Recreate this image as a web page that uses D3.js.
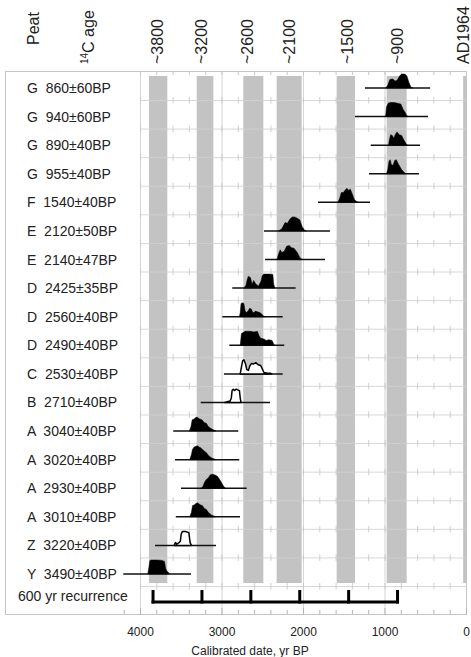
<!DOCTYPE html>
<html><head><meta charset="utf-8">
<script src="https://cdn.jsdelivr.net/npm/d3@7"></script>
<style>
body{margin:0;background:#fff;}
text{font-family:"Liberation Sans",Arial,sans-serif;fill:#222;}
</style>
</head><body>
<svg id="c" width="471" height="657"></svg>
<script>
// ---------------- data ----------------
const peat = ["G","G","G","G","F","E","E","D","D","D","C","B","A","A","A","A","Z","Y"];
const c14 = ["860±60BP","940±60BP","890±40BP","955±40BP","1540±40BP","2120±50BP","2140±47BP",
  "2425±35BP","2560±40BP","2490±40BP","2530±40BP","2710±40BP","3040±40BP","3020±40BP",
  "2930±40BP","3010±40BP","3220±40BP","3490±40BP"];
// calibrated range lines (yr BP)
const rangeFrom = [1240,1362,1169,1190,1816,2479,2466,2868,2990,2904,2970,3255,3592,3570,3497,3561,3816,4205];
const rangeTo   = [440,466,564,577,1178,1669,1730,2090,2249,2230,2249,2405,2794,2782,2691,2773,3068,3374];
const outlined  = [false,false,false,false,false,false,false,false,false,false,true,true,false,false,false,false,true,false];
// probability profiles [yr BP, relative probability]
const profiles = [
  [[985,0],[960,0.2],[935,0.6],[900,0.65],[870,0.5],[845,0.55],[815,0.85],[790,1],[750,1],[725,0.85],[700,0.4],[675,0.05],[650,0]],
  [[1000,0],[985,0.1],[975,0.7],[955,0.95],[930,1],[880,1],[840,0.95],[800,0.9],[770,0.5],[745,0.3],[725,0.05],[710,0]],
  [[950,0],[940,0.4],[925,0.75],[905,0.7],[885,0.5],[865,0.8],[845,0.95],[820,0.75],[790,0.7],[760,0.35],[735,0.1],[720,0]],
  [[975,0],[960,0.3],[945,0.9],[930,1],[915,0.65],[895,0.6],[875,0.95],[855,1],[830,0.7],[790,0.3],[760,0.1],[740,0]],
  [[1570,0],[1550,0.3],[1530,0.7],[1505,0.7],[1480,0.9],[1460,1],[1440,0.85],[1420,0.95],[1395,0.6],[1370,0.2],[1340,0.05],[1320,0]],
  [[2300,0],[2260,0.15],[2220,0.6],[2190,0.55],[2160,0.85],[2130,1],[2100,1],[2070,0.9],[2040,0.8],[2010,0.3],[1980,0.05],[1960,0]],
  [[2320,0],[2300,0.4],[2280,0.7],[2260,0.5],[2230,0.6],[2200,0.95],[2170,1],[2140,0.85],[2110,0.8],[2070,0.5],[2040,0.15],[2010,0]],
  [[2725,0],[2700,0.2],[2685,0.6],[2670,0.85],[2645,0.75],[2625,0.3],[2605,0.55],[2580,0.3],[2545,0.15],[2515,0.5],[2500,0.9],[2480,1],[2420,1],[2370,0.98],[2360,0.3],[2345,0]],
  [[2780,0],[2770,0.3],[2760,0.95],[2745,1],[2725,0.95],[2710,0.4],[2690,0.3],[2670,0.45],[2655,0.6],[2635,0.55],[2615,0.3],[2600,0.3],[2585,0.4],[2560,0.35],[2530,0.3],[2500,0.15],[2480,0.02],[2470,0]],
  [[2770,0],[2755,0.85],[2740,0.9],[2710,1],[2650,1],[2600,0.95],[2560,1],[2540,0.7],[2520,0.5],[2480,0.45],[2450,0.35],[2420,0.4],[2380,0.35],[2360,0.1],[2350,0]],
  [[2770,0],[2755,0.5],[2740,0.95],[2725,1],[2705,0.7],[2690,0.3],[2670,0.25],[2650,0.6],[2630,0.75],[2610,0.7],[2580,0.8],[2550,0.65],[2520,0.6],[2495,0.3],[2480,0.1],[2440,0.05],[2400,0.05],[2385,0]],
  [[2960,0],[2930,0.05],[2895,0.1],[2880,0.3],[2870,0.85],[2855,0.95],[2840,0.85],[2820,0.95],[2800,0.9],[2780,0.85],[2770,0.3],[2760,0]],
  [[3395,0],[3375,0.3],[3360,0.8],[3340,0.85],[3320,0.95],[3300,1],[3280,0.9],[3260,0.85],[3240,0.8],[3210,0.6],[3185,0.55],[3160,0.3],[3120,0.15],[3085,0.05],[3070,0]],
  [[3390,0],[3370,0.35],[3355,0.75],[3335,0.9],[3315,0.95],[3295,1],[3275,0.9],[3255,0.85],[3235,0.75],[3210,0.6],[3185,0.5],[3160,0.3],[3120,0.12],[3085,0.04],[3075,0]],
  [[3250,0],[3230,0.1],[3210,0.4],[3190,0.6],[3160,0.75],[3140,0.95],[3110,1],[3080,0.95],[3050,0.85],[3020,0.6],[2990,0.3],[2970,0.1],[2950,0]],
  [[3390,0],[3370,0.3],[3355,0.8],[3335,0.85],[3315,0.95],[3295,1],[3275,0.92],[3255,0.85],[3235,0.8],[3210,0.6],[3185,0.52],[3160,0.3],[3120,0.12],[3085,0.04],[3075,0]],
  [[3580,0],[3565,0.2],[3550,0.1],[3535,0.15],[3520,0.2],[3505,0.3],[3495,0.8],[3480,1],[3440,1],[3420,0.95],[3400,0.9],[3385,0.2],[3370,0]],
  [[3905,0],[3890,0.5],[3880,0.95],[3860,1],[3790,1],[3730,0.97],[3700,0.9],[3685,0.4],[3670,0.2],[3650,0.1],[3640,0]]
];
// grey event bands (yr BP)
const bandFrom = [3890,3304,2733,2323,1587,973,35];
const bandTo   = [3665,3100,2487,2016,1362,728,0];
// top labels
const topLabels = ["~3800","~3200","~2600","~2100","~1500","~900","AD1964"];
const topLabelYears = [3790,3240,2675,2160,1450,845,30];
// recurrence bracket
const recurrence = [3840,3240,2640,2040,1440,840];
const xTicks = [4000,3000,2000,1000,0];

// ---------------- drawing ----------------
const svg = d3.select("#c");
const x = d3.scaleLinear().domain([4000,0]).range([140,466]);
const y = d3.scalePoint().domain(d3.range(peat.length)).range([88,574]);
const h = d3.scaleLinear().domain([0,1]).range([0,14]);
const frame = {l:5, t:71, r:466, b:614};
const bandTop = 76, bandBottom = 583;

// frame
svg.append("rect").attr("x",frame.l+0.5).attr("y",frame.t+0.5)
  .attr("width",frame.r-frame.l).attr("height",frame.b-frame.t)
  .attr("fill","none").attr("stroke","#c4c4c4").attr("stroke-width",1);

// bands
svg.append("g").selectAll("rect").data(bandFrom).join("rect")
  .attr("x",(d,i)=>x(d)).attr("width",(d,i)=>x(bandTo[i])-x(d))
  .attr("y",bandTop).attr("height",bandBottom-bandTop)
  .attr("fill","#c3c3c3");

// vertical gridlines
svg.append("g").selectAll("line").data(xTicks.slice(0,4)).join("line")
  .attr("x1",d=>x(d)+0.5).attr("x2",d=>x(d)+0.5).attr("y1",frame.t).attr("y2",frame.b)
  .attr("stroke","#cfcfcf").attr("stroke-width",1).attr("opacity",0.85);

// horizontal gridlines with minor ticks
const minor = d3.range(0,4001,200);
const gl = svg.append("g");
const gridYs = y.domain().map(i=>y(i)+12);
gridYs.forEach(gy=>{
  gl.append("line").attr("x1",x(4000)).attr("x2",frame.r).attr("y1",gy+0.5).attr("y2",gy+0.5)
    .attr("stroke","#d2d2d2").attr("stroke-width",1).attr("opacity",0.85);
  const g2 = gl.append("g");
  g2.selectAll("line").data(minor).join("line")
    .attr("x1",d=>x(d)+0.5).attr("x2",d=>x(d)+0.5).attr("y1",gy-3).attr("y2",gy+3.5)
    .attr("stroke","#c8c8c8").attr("stroke-width",1).attr("opacity",0.85);
});
// ticks on top frame
gl.append("g").selectAll("line").data(minor).join("line")
  .attr("x1",d=>x(d)+0.5).attr("x2",d=>x(d)+0.5).attr("y1",frame.t).attr("y2",frame.t+4)
  .attr("stroke","#c8c8c8");

// bottom axis ticks
const axisTicks = d3.range(0,4201,200);
svg.append("g").selectAll("line").data(axisTicks).join("line")
  .attr("x1",d=>x(d)+0.5).attr("x2",d=>x(d)+0.5)
  .attr("y1",d=>frame.b-(d%1000===0?6:4)).attr("y2",d=>frame.b+(d%1000===0?1:0))
  .attr("stroke","#b4b4b4");
// bottom axis labels (d3 axis)
const ax = svg.append("g").attr("transform",`translate(0,${frame.b+13})`)
  .call(d3.axisBottom(x).tickValues(xTicks).tickSize(0).tickPadding(0).tickFormat(d3.format("d")));
ax.select(".domain").remove();
ax.selectAll("text").style("font-size","12px").style("font-family","Liberation Sans, Arial, sans-serif").attr("fill","#222");
svg.append("text").attr("x",250).attr("y",655).attr("text-anchor","middle")
  .style("font-size","12px").text("Calibrated date, yr BP");

// row labels
svg.append("g").selectAll("text").data(peat).join("text")
  .attr("x",27).attr("y",(d,i)=>y(i)+5).style("font-size","14px")
  .style("white-space","pre")
  .text((d,i)=>d+"  "+c14[i]);

// range lines
svg.append("g").selectAll("line").data(rangeFrom).join("line")
  .attr("x1",d=>x(d)).attr("x2",(d,i)=>x(rangeTo[i]))
  .attr("y1",(d,i)=>y(i)).attr("y2",(d,i)=>y(i))
  .attr("stroke","#111").attr("stroke-width",1.5);

// distributions
const area = (i)=>d3.area().x(d=>x(d[0])).y0(y(i)).y1(d=>y(i)-h(d[1]));
svg.append("g").selectAll("path").data(profiles).join("path")
  .attr("d",(d,i)=>area(i)(d))
  .attr("fill",(d,i)=>outlined[i]?"#fff":"#000")
  .attr("stroke","#000").attr("stroke-width",(d,i)=>outlined[i]?1.5:0.5)
  .attr("stroke-linejoin","round");

// recurrence row
const ry = y(peat.length-1) + 22;
svg.append("text").attr("x",18).attr("y",ry+5).style("font-size","14px").text("600 yr recurrence");
const bb = y(peat.length-1)+28;
svg.append("line").attr("x1",x(d3.max(recurrence))-1.5).attr("x2",x(d3.min(recurrence))+1.5)
  .attr("y1",bb).attr("y2",bb).attr("stroke","#000").attr("stroke-width",3);
svg.append("g").selectAll("line").data(recurrence).join("line")
  .attr("x1",d=>x(d)).attr("x2",d=>x(d)).attr("y1",bb-12).attr("y2",bb+1.5)
  .attr("stroke","#000").attr("stroke-width",3);

// top labels (rotated)
const tl = svg.append("g");
tl.append("text").attr("transform","translate(33,45) rotate(-90)")
  .attr("dominant-baseline","central").style("font-size","16px").text("Peat");
const t14 = tl.append("text").attr("transform","translate(94,64) rotate(-90)")
  .style("font-size","16px");
t14.append("tspan").style("font-size","10px").attr("dy","-6").text("14");
t14.append("tspan").attr("dy","6").text("C age");
tl.selectAll(null).data(topLabels).join("text")
  .attr("transform",(d,i)=>`translate(${x(topLabelYears[i])},64) rotate(-90)`)
  .attr("dominant-baseline","central").style("font-size","16px").text(d=>d);
</script>
</body></html>
